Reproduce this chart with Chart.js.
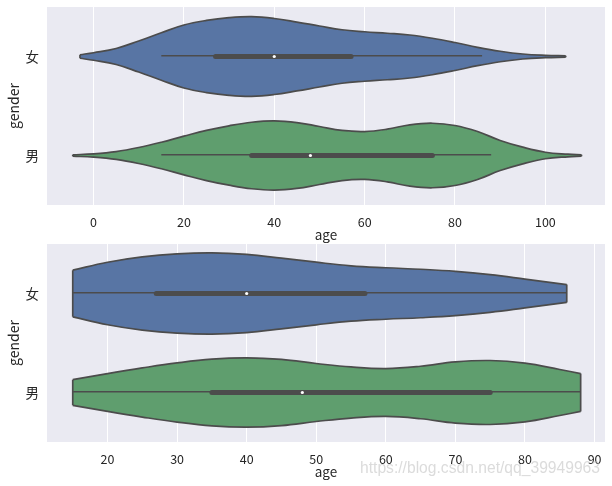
<!DOCTYPE html>
<html>
<head>
<meta charset="utf-8">
<script src="https://cdn.jsdelivr.net/npm/chart.js@4/dist/chart.umd.min.js"></script>
<style>
  body { margin: 0; background: #fff; }
  #page { position: relative; width: 612px; height: 486px; overflow: hidden; }
  .box { position: absolute; left: 0; width: 612px; }
  #mark {
    position: absolute; left: 360px; top: 459px;
    font: 15.65px "Liberation Sans", sans-serif;
    color: rgba(190, 190, 190, 0.55); white-space: nowrap;
  }
</style>
</head>
<body>
<div id="page">
  <div class="box" style="top:0;height:243px"><canvas id="top"></canvas></div>
  <div class="box" style="top:243px;height:243px"><canvas id="bottom"></canvas></div>
  <div id="mark">https://blog.csdn.net/qq_39949963</div>
</div>
<script>
const genders = ["女", "男"];
const topTicks = [0, 20, 40, 60, 80, 100];
const bottomTicks = [20, 30, 40, 50, 60, 70, 80, 90];

// full violins (top panel): age and half width in category units
const femaleAges = [-3, 0, 5, 10, 15, 20, 25, 30, 35, 40, 45, 50, 55, 60, 65, 70, 75, 80, 85, 90, 95, 100, 104.5];
const femaleWidths = [0.018, 0.038, 0.081, 0.157, 0.24, 0.318, 0.364, 0.392, 0.402, 0.384, 0.348, 0.308, 0.27, 0.25, 0.235, 0.217, 0.184, 0.141, 0.093, 0.053, 0.025, 0.012, 0.007];
const maleAges = [-4.6, 0, 5, 10, 15, 20, 25, 30, 35, 40, 45, 50, 55, 60, 65, 70, 75, 80, 85, 90, 95, 100, 105, 108];
const maleWidths = [0.007, 0.017, 0.04, 0.081, 0.134, 0.195, 0.253, 0.3, 0.336, 0.35, 0.333, 0.293, 0.253, 0.242, 0.266, 0.31, 0.326, 0.303, 0.242, 0.152, 0.084, 0.033, 0.013, 0.007];

// cut violins (bottom panel)
const femaleCutAges = [15, 20, 25, 30, 35, 40, 45, 50, 55, 60, 65, 70, 75, 80, 86];
const femaleCutWidths = [0.236, 0.316, 0.37, 0.401, 0.411, 0.395, 0.357, 0.316, 0.28, 0.26, 0.245, 0.224, 0.191, 0.146, 0.09];
const maleCutAges = [15, 20, 25, 30, 35, 40, 45, 50, 55, 60, 65, 70, 75, 80, 85, 88];
const maleCutWidths = [0.13, 0.191, 0.248, 0.299, 0.337, 0.35, 0.334, 0.293, 0.258, 0.242, 0.265, 0.309, 0.323, 0.296, 0.232, 0.191];

// whisker low, q1, median, q3, whisker high
const femaleStats = [15, 27, 40, 57, 86];
const maleStats = [15, 35, 48, 75, 88];

const blue = "#5875a4";
const green = "#5f9e6e";
const ink = "#4c4c4c";
const fontName = '"Noto Sans CJK SC", sans-serif';

function violin(ages, widths, stats, row, color) {
  const plain = { showLine: true, pointRadius: 0, borderColor: ink };
  const last = ages.length - 1;
  return [
    // upper edge carries the fill, so it has to go down before the lower edge
    {
      ...plain, order: 6, borderWidth: 1.7, tension: 0.4,
      backgroundColor: color, fill: "+1",
      data: ages.map((a, i) => ({ x: a, y: row - widths[i] })),
    },
    {
      ...plain, order: 5, borderWidth: 1.7, tension: 0.4,
      data: ages.map((a, i) => ({ x: a, y: row + widths[i] })),
    },
    {
      ...plain, order: 4, borderWidth: 1.7,
      data: [{ x: ages[0], y: row - widths[0] }, { x: ages[0], y: row + widths[0] }],
    },
    {
      ...plain, order: 4, borderWidth: 1.7,
      data: [{ x: ages[last], y: row - widths[last] }, { x: ages[last], y: row + widths[last] }],
    },
    {
      ...plain, order: 3, borderWidth: 1.6,
      data: [{ x: stats[0], y: row - 0.008 }, { x: stats[4], y: row - 0.008 }],
    },
    {
      ...plain, order: 2, borderWidth: 5, borderCapStyle: "round",
      data: [{ x: stats[1], y: row }, { x: stats[3], y: row }],
    },
    {
      order: 1, pointRadius: 1.6, pointBorderWidth: 0, pointBackgroundColor: "#fff",
      data: [{ x: stats[2], y: row }],
    },
  ];
}

function makeChart(id, datasets, xMin, xMax, xTicks, pad) {
  new Chart(document.getElementById(id), {
    type: "scatter",
    data: { datasets },
    options: {
      responsive: true,
      maintainAspectRatio: false,
      animation: false,
      layout: { autoPadding: false, padding: { left: 0, right: 7, top: pad.top, bottom: 0 } },
      plugins: {
        legend: { display: false },
        tooltip: { enabled: false },
      },
      scales: {
        x: {
          type: "linear",
          min: xMin,
          max: xMax,
          border: { display: false },
          grid: { color: "#fff", lineWidth: 1, drawTicks: false },
          afterBuildTicks: (s) => { s.ticks = xTicks.map((v) => ({ value: v })); },
          afterFit: (s) => {
            s.height = pad.bottom;
            s.paddingLeft = 0;
            s.paddingRight = 0;
          },
          ticks: { color: "#262626", padding: 10, maxRotation: 0, font: { family: fontName, size: 12.5 } },
          title: {
            display: true, text: "age", color: "#262626", padding: { top: 0, bottom: pad.title },
            font: { family: fontName, size: 13.5 },
          },
        },
        y: {
          type: "linear",
          reverse: true,
          min: -0.5,
          max: 1.5,
          border: { display: false },
          grid: { display: false, drawTicks: false },
          afterBuildTicks: (s) => { s.ticks = genders.map((g, i) => ({ value: i })); },
          afterFit: (s) => {
            s.width = 47;
            s.paddingTop = 0;
            s.paddingBottom = 0;
          },
          ticks: {
            color: "#262626", padding: 8,
            font: { family: fontName, size: 13.5 },
            callback: (v) => genders[v],
          },
          title: {
            display: true, text: "gender", color: "#262626", padding: { top: 5, bottom: 0 },
            font: { family: fontName, size: 14 },
          },
        },
      },
    },
    plugins: [{
      id: "panel",
      beforeDraw(chart) {
        const a = chart.chartArea;
        chart.ctx.fillStyle = "#eaeaf2";
        chart.ctx.fillRect(a.left, a.top, a.right - a.left, a.bottom - a.top);
      },
    }],
  });
}

makeChart("top", [
  ...violin(femaleAges, femaleWidths, femaleStats, 0, blue),
  ...violin(maleAges, maleWidths, maleStats, 1, green),
], -10.3, 113.2, topTicks, { top: 7, bottom: 38, title: 0 });

makeChart("bottom", [
  ...violin(femaleCutAges, femaleCutWidths, femaleStats, 0, blue),
  ...violin(maleCutAges, maleCutWidths, maleStats, 1, green),
], 11.3, 91.5, bottomTicks, { top: 1, bottom: 44, title: 6 });
</script>
</body>
</html>
